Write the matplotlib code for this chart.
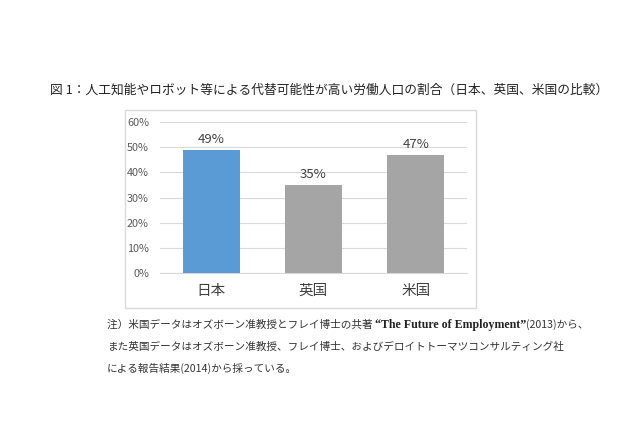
import numpy as np
import matplotlib.pyplot as plt
from matplotlib.patches import Rectangle

plt.rcParams['font.family'] = ['Noto Sans CJK JP', 'DejaVu Sans']

countries = ['日本', '英国', '米国']
share = [49, 35, 47]
bar_colors = ['#5B9BD5', '#A5A5A5', '#A5A5A5']
yticks = [0, 10, 20, 30, 40, 50, 60]

title = '図 1：人工知能やロボット等による代替可能性が高い労働人口の割合（日本、英国、米国の比較）'
note1_a = '注）米国データはオズボーン准教授とフレイ博士の共著 '
note1_b = '\u201cThe Future of Employment\u201d'
note1_c = '(2013)から、'
note2 = 'また英国データはオズボーン准教授、フレイ博士、およびデロイトトーマツコンサルティング社'
note3 = 'による報告結果(2014)から採っている。'

W, H = 640, 437
fig = plt.figure(figsize=(W / 100, H / 100), dpi=100)

def fx(px):
    return px / W

def fy(py):
    return 1 - py / H

# chart frame
fig.patches.append(Rectangle((fx(125), fy(308)), fx(476) - fx(125), fy(110) - fy(308),
                             transform=fig.transFigure, fill=False,
                             edgecolor='#D9D9D9', linewidth=1))

ax = fig.add_axes([fx(160), fy(273), fx(467) - fx(160), fy(122) - fy(273)])
x = np.arange(len(countries))
bars = ax.bar(x, share, width=0.56, color=bar_colors, zorder=3)
for xi, v in zip(x, share):
    ax.text(xi, v + 1.6, f'{v}%', ha='center', va='bottom', fontsize=9.5, color='#404040')

ax.set_xlim(-0.5, 2.5)
ax.set_ylim(0, 60)
ax.set_yticks(yticks)
ax.set_yticklabels([f'{t}%' for t in yticks], fontsize=7.8, color='#595959')
ax.set_xticks(x)
ax.set_xticklabels(countries, fontsize=10.5, color='#404040')
ax.tick_params(axis='both', length=0)
ax.tick_params(axis='x', pad=8)
ax.tick_params(axis='y', pad=8)
ax.grid(axis='y', color='#D9D9D9', linewidth=0.8, zorder=0)
for s in ['top', 'right', 'left']:
    ax.spines[s].set_visible(False)
ax.spines['bottom'].set_color('#D9D9D9')

fig.text(fx(50), fy(90), title, ha='left', va='center', fontsize=9.15, color='#222222')

renderer = fig.canvas.get_renderer()
t1 = fig.text(fx(107), fy(325), note1_a, ha='left', va='center', fontsize=7.65, color='#333333')
bb = t1.get_window_extent(renderer)
t2 = fig.text(bb.x1 / W, fy(325), note1_b, ha='left', va='center', fontsize=8.6,
              family='Liberation Serif', fontweight='bold', color='#222222')
bb = t2.get_window_extent(renderer)
fig.text(bb.x1 / W, fy(325), note1_c, ha='left', va='center', fontsize=7.65, color='#333333')
fig.text(fx(107), fy(347), note2, ha='left', va='center', fontsize=7.65, color='#333333')
fig.text(fx(107), fy(368), note3, ha='left', va='center', fontsize=7.65, color='#333333')

fig.savefig('out.png', dpi=100, facecolor='white')
